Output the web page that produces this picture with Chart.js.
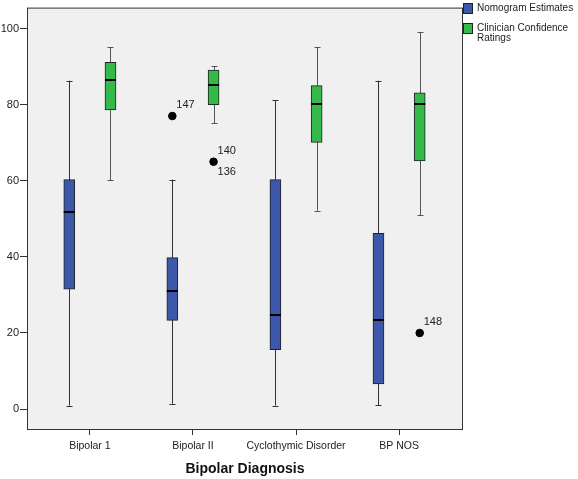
<!DOCTYPE html>
<html>
<head>
<meta charset="utf-8">
<script src="https://cdn.jsdelivr.net/npm/chart.js@4"></script>
<style>
  html,body{margin:0;padding:0;background:#fff;}
  #wrap{width:578px;height:479px;position:relative;}
</style>
</head>
<body>
<div id="wrap"><canvas id="c" width="578" height="479"></canvas></div>
<script>
const categories = ['Bipolar 1', 'Bipolar II', 'Cyclothymic Disorder', 'BP NOS'];
const seriesNames = ['Nomogram Estimates', 'Clinician Confidence Ratings'];
const yTicks = [0, 20, 40, 60, 80, 100];

// Nomogram Estimates
const nomMin    = [0.9, 1.4, 0.9, 1.0];
const nomQ1     = [31.5, 23.3, 15.6, 6.6];
const nomMedian = [51.8, 30.9, 24.8, 23.4];
const nomQ3     = [60.3, 39.8, 60.3, 46.2];
const nomMax    = [86.3, 60.3, 81.2, 86.3];

// Clinician Confidence Ratings
const clinMin    = [60.1, 75.1, 52.1, 51.0];
const clinQ1     = [78.6, 80.0, 70.1, 65.2];
const clinMedian = [86.6, 85.1, 80.1, 80.1];
const clinQ3     = [91.1, 89.1, 85.0, 83.1];
const clinMax    = [95.1, 90.1, 95.1, 99.1];

// Outliers
const outlierCategory = [1, 1, 3];
const outlierSeries   = [0, 1, 1];
const outlierValues   = [77, 65, 20];
const outlierLabelAbove = ['147', '140', '148'];
const outlierLabelBelow = ['', '136', ''];

const colors = ['#3d58ab', '#35b94a'];
const offsets = [-0.2, 0.2];
const FONT = '"Liberation Sans", Arial, sans-serif';

const boxStats = [
  {min: nomMin, q1: nomQ1, med: nomMedian, q3: nomQ3, max: nomMax},
  {min: clinMin, q1: clinQ1, med: clinMedian, q3: clinQ3, max: clinMax}
];

function boxData(s) {
  return categories.map((c, i) => ({x: i + offsets[s], y: [boxStats[s].q1[i], boxStats[s].q3[i]]}));
}

const outlierData = outlierValues.map((v, k) => ({x: outlierCategory[k] + offsets[outlierSeries[k]], y: v}));

const boxPlugin = {
  id: 'boxParts',
  beforeDraw(chart) {
    const {ctx, chartArea: a} = chart;
    ctx.save();
    ctx.fillStyle = '#f0f0f0';
    ctx.fillRect(a.left, a.top, a.right - a.left, a.bottom - a.top);
    ctx.restore();
  },
  beforeDatasetsDraw(chart) {
    const {ctx, scales: {x, y}} = chart;
    ctx.save();
    ctx.lineWidth = 1;
    for (let s = 0; s < 2; s++) {
      ctx.strokeStyle = s === 0 ? '#333' : '#555';
      const st = boxStats[s];
      categories.forEach((c, i) => {
        const px = Math.round(x.getPixelForValue(i + offsets[s])) + 0.5;
        const yMin = y.getPixelForValue(st.min[i]);
        const yMax = y.getPixelForValue(st.max[i]);
        ctx.beginPath();
        ctx.moveTo(px, yMin); ctx.lineTo(px, yMax);
        ctx.moveTo(px - 3, Math.round(yMin) + 0.5); ctx.lineTo(px + 3, Math.round(yMin) + 0.5);
        ctx.moveTo(px - 3, Math.round(yMax) + 0.5); ctx.lineTo(px + 3, Math.round(yMax) + 0.5);
        ctx.stroke();
      });
    }
    ctx.restore();
  },
  afterDatasetsDraw(chart) {
    const {ctx, scales: {x, y}, chartArea: a} = chart;
    ctx.save();
    // medians
    ctx.strokeStyle = '#000';
    ctx.lineWidth = 2;
    for (let s = 0; s < 2; s++) {
      categories.forEach((c, i) => {
        const px = x.getPixelForValue(i + offsets[s]);
        const py = Math.round(y.getPixelForValue(boxStats[s].med[i]));
        ctx.beginPath();
        ctx.moveTo(px - 5.5, py); ctx.lineTo(px + 5.5, py);
        ctx.stroke();
      });
    }
    // outlier labels
    ctx.fillStyle = '#222';
    ctx.font = '11px ' + FONT;
    ctx.textAlign = 'left';
    ctx.textBaseline = 'middle';
    outlierValues.forEach((v, k) => {
      const px = x.getPixelForValue(outlierCategory[k] + offsets[outlierSeries[k]]);
      const py = y.getPixelForValue(v);
      if (outlierLabelAbove[k]) ctx.fillText(outlierLabelAbove[k], px + 4, py - 11);
      if (outlierLabelBelow[k]) ctx.fillText(outlierLabelBelow[k], px + 4, py + 10);
    });
    // frame
    ctx.strokeStyle = '#333';
    ctx.lineWidth = 1;
    ctx.strokeRect(a.left + 0.5, a.top + 0.5, a.right - a.left - 1, a.bottom - a.top - 1);
    // legend
    const lx = a.right;
    const items = [
      {lines: ['Nomogram Estimates'], y: 3},
      {lines: ['Clinician Confidence', 'Ratings'], y: 23}
    ];
    ctx.font = '10px ' + FONT;
    ctx.textBaseline = 'middle';
    items.forEach((it, s) => {
      ctx.fillStyle = colors[s];
      ctx.fillRect(lx, it.y, 9, 10);
      ctx.strokeStyle = '#222';
      ctx.strokeRect(lx + 0.5, it.y + 0.5, 9, 10);
      ctx.fillStyle = '#222';
      it.lines.forEach((ln, j) => ctx.fillText(ln, lx + 14, it.y + 5 + j * 10));
    });
    ctx.restore();
  }
};

new Chart(document.getElementById('c'), {
  type: 'bar',
  data: {
    datasets: [
      {label: seriesNames[0], data: boxData(0), backgroundColor: colors[0], borderColor: '#222', borderWidth: 1, barThickness: 11, grouped: false, borderSkipped: false},
      {label: seriesNames[1], data: boxData(1), backgroundColor: colors[1], borderColor: '#222', borderWidth: 1, barThickness: 11, grouped: false, borderSkipped: false},
      {type: 'scatter', label: 'Outliers', data: outlierData, backgroundColor: '#000', borderColor: '#000', pointRadius: 3.8, pointHoverRadius: 3.8}
    ]
  },
  options: {
    responsive: false,
    animation: false,
    events: [],
    layout: {padding: {top: 2, right: 115, bottom: 0, left: 0}},
    plugins: {legend: {display: false}, tooltip: {enabled: false}},
    scales: {
      x: {
        type: 'linear',
        offset: false,
        min: -0.61,
        max: 3.62,
        afterBuildTicks(scale) { scale.ticks = categories.map((c, i) => ({value: i})); },
        afterFit(scale) { scale.height = 49; },
        ticks: {
          callback: (v) => categories[v],
          color: '#222',
          font: {family: FONT, size: 10.5},
          padding: 5,
          maxRotation: 0,
          autoSkip: false
        },
        grid: {offset: false, drawOnChartArea: false, drawTicks: true, tickLength: 5, color: '#333'},
        border: {display: false},
        title: {display: true, text: 'Bipolar Diagnosis', color: '#111', font: {family: FONT, size: 14, weight: 'bold'}, padding: {top: 4, bottom: 1}}
      },
      y: {
        min: -5.5,
        max: 105.5,
        afterBuildTicks(scale) { scale.ticks = yTicks.map(v => ({value: v})); },
        afterFit(scale) { scale.width = 27; },
        ticks: {color: '#222', font: {family: FONT, size: 11}, padding: 1},
        grid: {drawOnChartArea: false, drawTicks: true, tickLength: 7, color: '#333'},
        border: {display: false}
      }
    }
  },
  plugins: [boxPlugin]
});
</script>
</body>
</html>
